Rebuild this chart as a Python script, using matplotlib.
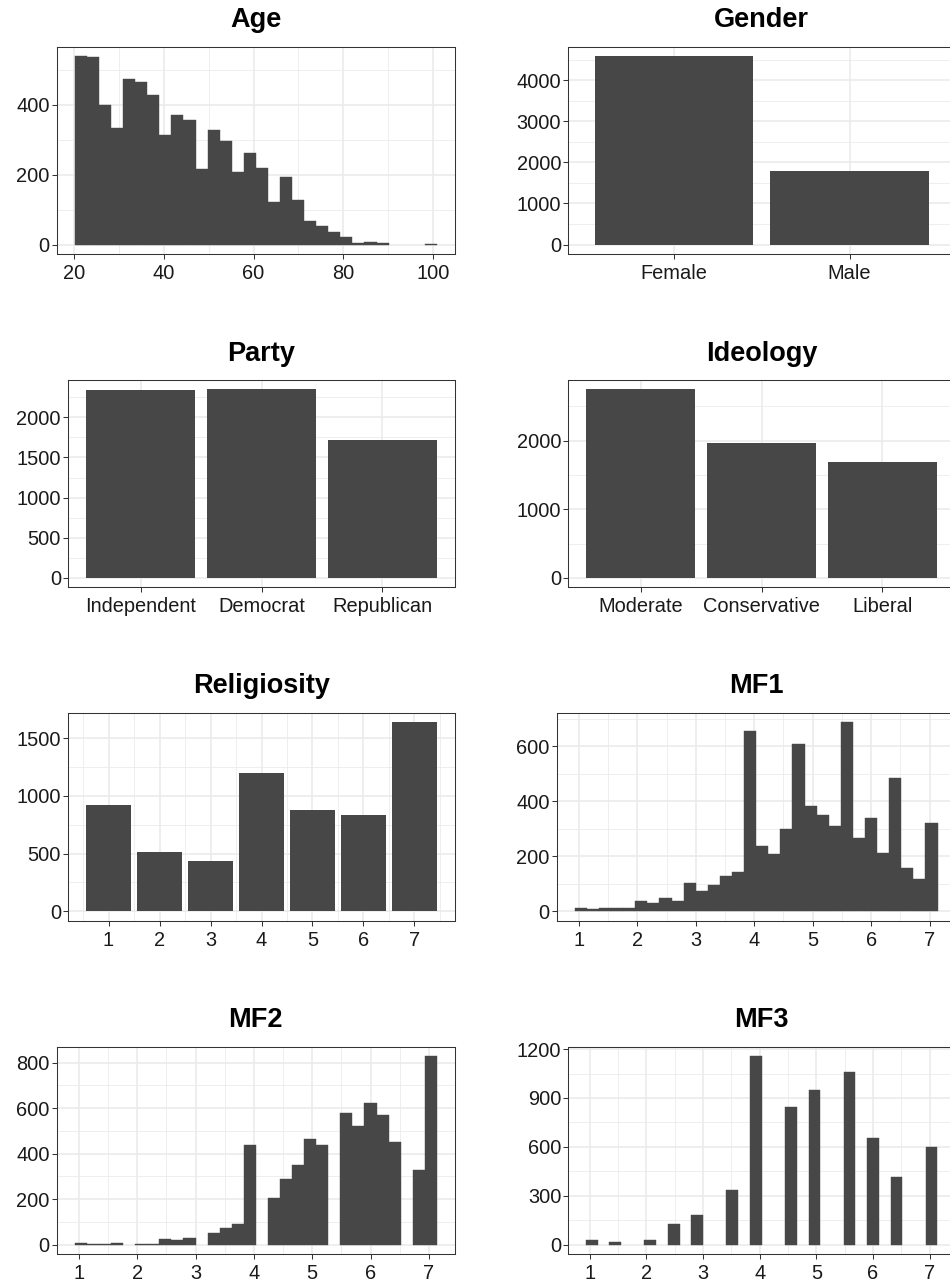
import numpy as np
import matplotlib
matplotlib.use("Agg")
import matplotlib.pyplot as plt
from matplotlib.ticker import FixedLocator

# ---------------- data ----------------
age_range = (22, 100)
age_counts = [540, 538, 401, 335, 474, 467, 428, 313, 371, 358, 217, 329, 296, 207, 262,
              220, 121, 193, 127, 67, 53, 37, 22, 5, 7, 4, 0, 0, 0, 1]

gender_labels = ["Female", "Male"]
gender_counts = [4583, 1798]

party_labels = ["Independent", "Democrat", "Republican"]
party_counts = [2340, 2348, 1718]

ideology_labels = ["Moderate", "Conservative", "Liberal"]
ideology_counts = [2746, 1971, 1690]

religiosity_levels = [1, 2, 3, 4, 5, 6, 7]
religiosity_counts = [920, 513, 436, 1200, 877, 834, 1638]

mf_range = (1, 7)
mf1_counts = [12, 8, 12, 10, 10, 38, 29, 47, 38, 102, 74, 96, 128, 141, 657,
              239, 208, 301, 608, 383, 352, 309, 688, 268, 341, 213, 485, 156, 118, 321]
mf2_counts = [5, 1, 2, 8, 0, 4, 2, 23, 19, 28, 0, 53, 75, 91, 439,
              0, 203, 287, 351, 466, 436, 0, 580, 523, 624, 570, 450, 0, 330, 829]
mf3_counts = [26, 0, 15, 0, 0, 29, 0, 127, 0, 179, 0, 0, 338, 0, 1157,
              0, 0, 846, 0, 951, 0, 0, 1059, 0, 652, 0, 416, 0, 0, 601]

# ---------------- style ----------------
plt.rcParams['font.family'] = ['Liberation Sans', 'DejaVu Sans']
BAR = "#474747"
GRID = "#EBEBEB"
BORDER = "#333333"
TICKFS = 14.4
TITLEFS = 19.5

W, H = 950, 1285
fig = plt.figure(figsize=(W / 100, H / 100), dpi=100)
fig.patch.set_facecolor("white")


def make_ax(x0, y0, x1, y1):
    return fig.add_axes([x0 / W, 1 - y1 / H, (x1 - x0) / W, (y1 - y0) / H])


def style(ax, title, xmaj, xmin, ymaj, ymin):
    ax.set_title(title, fontsize=TITLEFS, fontweight="bold", pad=14)
    ax.xaxis.set_major_locator(FixedLocator(xmaj))
    ax.yaxis.set_major_locator(FixedLocator(ymaj))
    if xmin is not None:
        ax.xaxis.set_minor_locator(FixedLocator(xmin))
    ax.yaxis.set_minor_locator(FixedLocator(ymin))
    ax.set_axisbelow(True)
    ax.grid(which="major", color=GRID, linewidth=1.2)
    ax.grid(which="minor", color=GRID, linewidth=0.6)
    ax.tick_params(which="major", length=3.6, width=0.75, color=BORDER,
                   labelsize=TICKFS, labelcolor="#1a1a1a")
    ax.tick_params(axis="y", which="major", pad=1.5)
    ax.tick_params(axis="x", which="major", pad=3.5)
    ax.tick_params(which="minor", length=0)
    for s in ax.spines.values():
        s.set_color(BORDER)
        s.set_linewidth(0.75)


def gg_bins(lo, hi, bins=30):
    width = (hi - lo) / (bins - 1)
    boundary = width / 2
    shift = np.floor((lo - boundary) / width)
    origin = boundary + shift * width
    return origin + width * np.arange(bins + 1)


def hist_panel(ax, edges, counts):
    counts = np.asarray(counts, float)
    lws = [0.3 if c > 0 else 0.0 for c in counts]
    ax.bar(edges[:-1], counts, width=np.diff(edges), align="edge",
           color=BAR, edgecolor=BAR, linewidth=lws)
    span = edges[-1] - edges[0]
    ax.set_xlim(edges[0] - 0.05 * span, edges[-1] + 0.05 * span)
    ax.set_ylim(-0.05 * counts.max(), 1.05 * counts.max())


def cat_panel(ax, labels, counts):
    pos = np.arange(1, len(labels) + 1)
    ax.bar(pos, counts, width=0.9, color=BAR, linewidth=0)
    ax.set_xlim(0.4, len(labels) + 0.6)
    m = max(counts)
    ax.set_ylim(-0.05 * m, 1.05 * m)
    ax.set_xticks(pos)
    ax.set_xticklabels(labels)


# Age
ax = make_ax(56.7, 46.7, 455, 254)
hist_panel(ax, gg_bins(*age_range), age_counts)
style(ax, "Age", [20, 40, 60, 80, 100], [30, 50, 70, 90], [0, 200, 400], [100, 300, 500])

# Gender
ax = make_ax(568.3, 46.7, 955, 254)
cat_panel(ax, gender_labels, gender_counts)
style(ax, "Gender", [1, 2], None, [0, 1000, 2000, 3000, 4000], [500, 1500, 2500, 3500, 4500])
ax.set_xticklabels(gender_labels)

# Party
ax = make_ax(68, 380, 455, 587.3)
cat_panel(ax, party_labels, party_counts)
style(ax, "Party", [1, 2, 3], None, [0, 500, 1000, 1500, 2000], [250, 750, 1250, 1750, 2250])
ax.set_xticklabels(party_labels)

# Ideology
ax = make_ax(568.3, 380, 955, 587.3)
cat_panel(ax, ideology_labels, ideology_counts)
style(ax, "Ideology", [1, 2, 3], None, [0, 1000, 2000], [500, 1500, 2500])
ax.set_xticklabels(ideology_labels)

# Religiosity
ax = make_ax(68, 712.7, 455, 920.7)
ax.bar(religiosity_levels, religiosity_counts, width=0.9, color=BAR, linewidth=0)
ax.set_xlim(0.55 - 0.345, 7.45 + 0.345)
m = max(religiosity_counts)
ax.set_ylim(-0.05 * m, 1.05 * m)
style(ax, "Religiosity", religiosity_levels, [0.5, 1.5, 2.5, 3.5, 4.5, 5.5, 6.5, 7.5],
      [0, 500, 1000, 1500], [250, 750, 1250])

mf_edges = gg_bins(*mf_range)
mf_xmaj = [1, 2, 3, 4, 5, 6, 7]
mf_xmin = [1.5, 2.5, 3.5, 4.5, 5.5, 6.5]

# MF1
ax = make_ax(556.7, 712.7, 955.7, 920.7)
hist_panel(ax, mf_edges, mf1_counts)
style(ax, "MF1", mf_xmaj, mf_xmin, [0, 200, 400, 600], [100, 300, 500, 700])

# MF2
ax = make_ax(56.7, 1046.7, 455, 1254)
hist_panel(ax, mf_edges, mf2_counts)
style(ax, "MF2", mf_xmaj, mf_xmin, [0, 200, 400, 600, 800], [100, 300, 500, 700])

# MF3
ax = make_ax(568.3, 1046.7, 955, 1254)
hist_panel(ax, mf_edges, mf3_counts)
style(ax, "MF3", mf_xmaj, mf_xmin, [0, 300, 600, 900, 1200], [150, 450, 750, 1050])

fig.savefig("out.png", dpi=100, facecolor="white")
